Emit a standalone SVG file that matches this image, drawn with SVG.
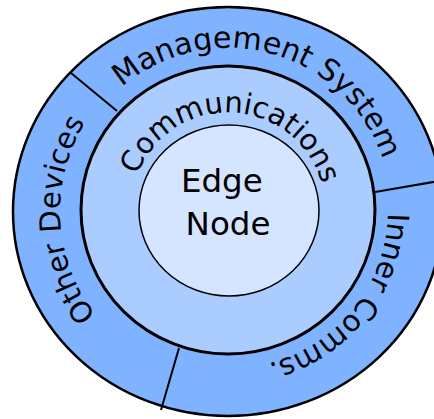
<svg xmlns="http://www.w3.org/2000/svg" width="434" height="419" viewBox="0 0 434 419">
  <style>
    .ring { stroke: #000; }
    .label { font-family: "DejaVu Sans", "Liberation Sans", sans-serif; fill: #000; }
    .divider { stroke: #000; stroke-width: 2; fill: none; }
  </style>
  <defs>
    <!-- baselines for the curved labels, all running clockwise -->
    <path id="arc-mgmt" d="M121.9,87.2 A163,163 0 0 1 391,211"/>
    <path id="arc-comm" d="M137.4,175.2 A97,97 0 0 1 321.7,235.1"/>
    <path id="arc-other" d="M96.3,315.3 A168,168 0 0 1 109.2,92.2"/>
    <path id="arc-inner" d="M387.9,213 A160,158 0 0 1 173.3,359"/>
  </defs>

  <!-- outer ring -->
  <g id="outer-ring">
    <ellipse class="ring" cx="228" cy="211.5" rx="215" ry="204.5" fill="#80b3ff" stroke-width="2.5"/>
  </g>

  <!-- sector dividers in the outer ring -->
  <g id="connectors">
    <line class="divider" x1="71" y1="73" x2="117" y2="111"/>
    <line class="divider" x1="375" y1="192" x2="445" y2="180"/>
    <line class="divider" x1="179" y1="348" x2="161" y2="410"/>
  </g>

  <g id="management-system">
    <text class="label" font-size="30"><textPath href="#arc-mgmt">Management System</textPath></text>
  </g>
  <g id="other-devices">
    <text class="label" font-size="29"><textPath href="#arc-other">Other Devices</textPath></text>
  </g>
  <g id="inner-comms">
    <text class="label" font-size="29.5"><textPath href="#arc-inner">Inner Comms.</textPath></text>
  </g>

  <!-- communications ring -->
  <g id="communications">
    <ellipse class="ring" cx="228" cy="210" rx="147" ry="144" fill="#aaccff" stroke-width="3"/>
    <text class="label" font-size="29"><textPath href="#arc-comm">Communications</textPath></text>
  </g>

  <!-- core -->
  <g id="edge-node">
    <ellipse class="ring" cx="229" cy="210.5" rx="90" ry="85.5" fill="#d5e5ff" stroke-width="1.5"/>
    <text class="label" font-size="32.5" text-anchor="middle">
      <tspan x="227" y="192">Edge</tspan>
      <tspan x="228" y="235">Node</tspan>
    </text>
  </g>
</svg>
